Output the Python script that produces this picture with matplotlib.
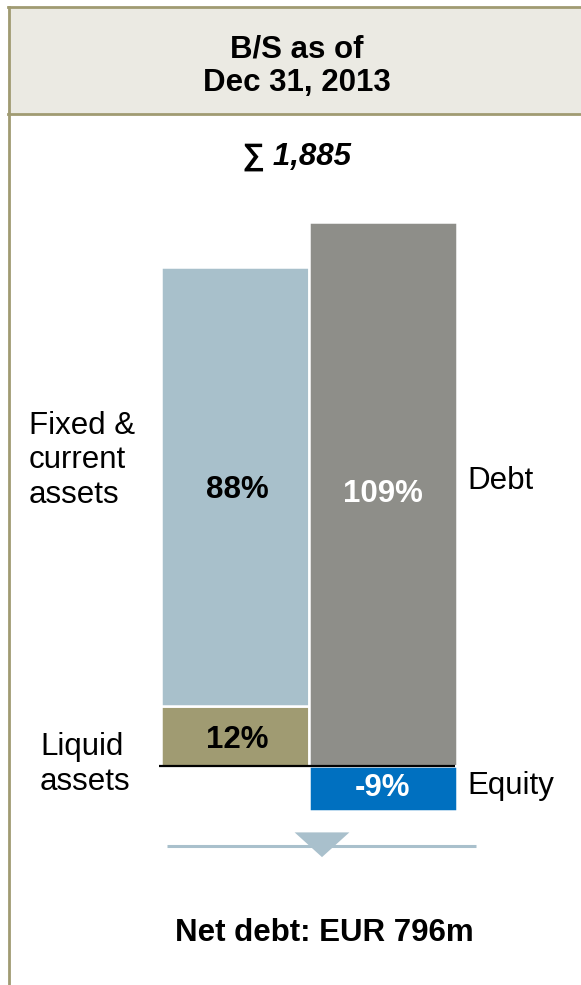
import matplotlib
matplotlib.use('Agg')
import matplotlib.pyplot as plt
from matplotlib.patches import Rectangle, Polygon

plt.rcParams['font.family'] = ['Liberation Sans', 'DejaVu Sans']

# balance sheet shares in % of total (EUR 1,885m)
asset_names = ['Liquid\nassets', 'Fixed &\ncurrent\nassets']
asset_values = [12, 88]
asset_colors = ['#A09B72', '#A8C0CB']
liab_names = ['Debt', 'Equity']
liab_values = [109, -9]
liab_colors = ['#8E8E89', '#0070C0']
liab_text_colors = ['white', 'white']
total_label = '\u2211 1,885'
title_lines = ['B/S as of', 'Dec 31, 2013']
footer = 'Net debt: EUR 796m'

W, H = 581, 985
FS = 22.5
fig = plt.figure(figsize=(W / 100, H / 100), dpi=100)

# background layer in pixel coords
bg = fig.add_axes([0, 0, 1, 1])
bg.set_xlim(0, W)
bg.set_ylim(H, 0)
bg.axis('off')
border = '#A09B72'
bg.add_patch(Rectangle((8, 7), W, 107, facecolor='#EBEAE3', edgecolor='none'))
bg.plot([8, W], [7, 7], color=border, lw=2)
bg.plot([8, W], [114, 114], color=border, lw=2)
bg.plot([8.5, 8.5], [7, H], color=border, lw=2)

bg.text(297, 57, title_lines[0], ha='center', va='baseline', fontsize=FS, fontweight='bold')
bg.text(297, 91, title_lines[1], ha='center', va='baseline', fontsize=FS, fontweight='bold')
bg.text(296, 165, total_label, ha='center', va='baseline', fontsize=FS,
        fontweight='bold', fontstyle='italic')

# arrow towards net debt
bg.plot([167, 476], [846, 846], color='#A9C0CC', lw=2.2, solid_capstyle='butt')
bg.add_patch(Polygon([(291, 831), (353, 831), (322, 859)], closed=True,
                     facecolor='#A9C0CC', edgecolor='white', lw=2))
bg.text(324, 941, footer, ha='center', va='baseline', fontsize=FS, fontweight='bold')

# bar layer: 4.99 px per %, baseline at y=766 px from top
ax = fig.add_axes([86.5 / W, (H - 865.8) / H, 444 / W, 698.6 / H])
ax.set_xlim(-1, 2)
ax.set_ylim(-20, 120)
ax.axis('off')
ax.patch.set_alpha(0)

bottom = 0
for v, c in zip(asset_values, asset_colors):
    ax.bar(0, v, bottom=bottom, width=1.0, color=c, edgecolor='white', lw=1.8)
    ax.text(0.02, bottom + v / 2 - 0.7, '{}%'.format(v), ha='center', va='center',
            fontsize=FS, fontweight='bold', color='black')
    bottom += v

for v, c, tc in zip(liab_values, liab_colors, liab_text_colors):
    ax.bar(1, v, width=1.0, color=c, edgecolor='white', lw=1.8)
    ax.text(1, v / 2, '{}%'.format(v), ha='center', va='center',
            fontsize=FS, fontweight='bold', color=tc)

ax.plot([-0.51, 1.49], [0, 0], color='black', lw=1.6, solid_capstyle='butt')

# side labels (baseline = last line for multi-line text)
bg.text(40, 790, asset_names[0], ha='left', va='baseline', fontsize=FS, linespacing=1.2)
bg.text(29, 503, asset_names[1], ha='left', va='baseline', fontsize=FS, linespacing=1.2)
bg.text(467, 489, liab_names[0], ha='left', va='baseline', fontsize=FS)
bg.text(467, 794, liab_names[1], ha='left', va='baseline', fontsize=FS)

fig.savefig('out.png', dpi=100)
